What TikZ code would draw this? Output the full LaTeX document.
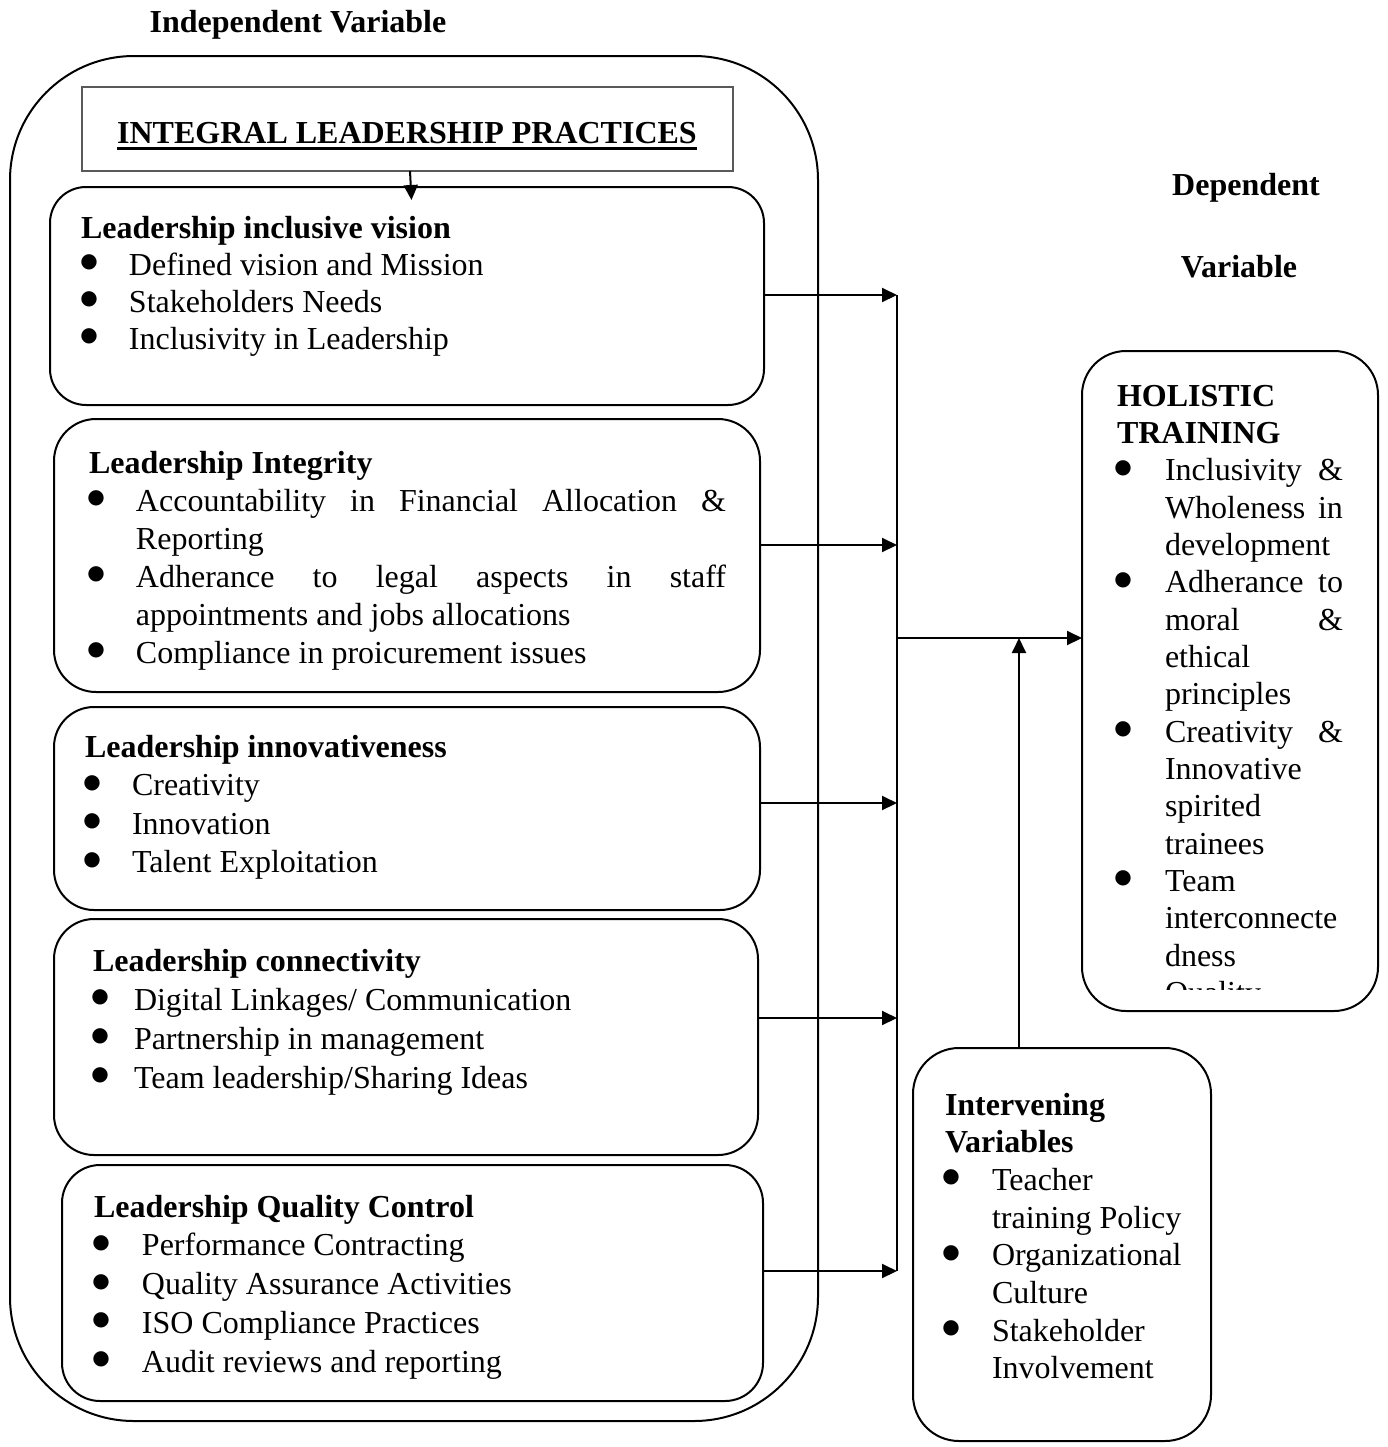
\documentclass[tikz,border=0pt]{standalone}
\usepackage{fontspec}
\setmainfont{Liberation Serif}
\newfontfamily\bulfont{DejaVu Sans}
\usetikzlibrary{arrows.meta}
\newlength\bulx
\newlength\txtx
\newcommand\bul{\makebox[\txtx][l]{\hspace*{\bulx}\makebox[0pt]{\raisebox{2pt}{$\vcenter{\hbox{\fontsize{10pt}{10pt}\bulfont ●}}$}}}}
\newcommand\Ttl[1]{\par\noindent\textbf{#1}}
\newcommand\Bit[1]{\par\noindent\bul #1}
\newcommand\Cln[1]{\par\noindent\hspace*{\txtx}#1}
\newcommand\Btext[5]{\parbox[t]{#1}{\fontsize{16pt}{#2}\selectfont\setlength{\bulx}{#3}\setlength{\txtx}{#4}#5}}
\newcommand\Bx[6]{\node[box, rounded corners=#6, minimum width={(#4-#2)*0.5pt}, minimum height={(#5-#3)*0.5pt}] (#1) at ({(#2+#4)/2},{(#3+#5)/2}) {};}
\begin{document}
\begin{tikzpicture}[x=0.5pt, y=-0.5pt,
  font=\fontsize{16pt}{19pt}\selectfont,
  every node/.style={inner sep=0pt, outer sep=0pt},
  box/.style={draw, line width=1pt},
  ln/.style={line width=1pt},
  arr/.style={line width=1pt, -{Triangle[length=7.5pt,width=7pt]}}]
\useasboundingbox (0,0) rectangle (1388,1447);

% headings
\node[anchor=base, font=\fontsize{16pt}{19pt}\selectfont\bfseries] (indep) at (298,32) {Independent Variable};
\node[anchor=base, font=\fontsize{16pt}{19pt}\selectfont\bfseries] (dep1) at (1246,195) {Dependent};
\node[anchor=base, font=\fontsize{16pt}{19pt}\selectfont\bfseries] (dep2) at (1239,277) {Variable};

% boxes
\Bx{outer}{10}{56}{818}{1421}{62pt}
\node[draw=gray!70!black, line width=0.7pt, minimum width=325.5pt, minimum height=42pt] (ttl) at (407.5,129) {};
\node[anchor=base, font=\fontsize{16pt}{19pt}\selectfont\bfseries] (ilp) at (407,143) {INTEGRAL LEADERSHIP PRACTICES};
\draw[line width=1.4pt] ([yshift=-2.6pt]ilp.base west) -- ([yshift=-2.6pt]ilp.base east);
\Bx{b1}{50}{187}{764}{405}{18pt}
\Bx{b2}{54}{419}{760}{692}{21pt}
\Bx{b3}{54}{707}{760}{910}{20pt}
\Bx{b4}{54}{919}{758}{1155}{20pt}
\Bx{b5}{62}{1165}{763}{1401}{19pt}
\Bx{hol}{1082}{351}{1378}{1011}{22pt}
\Bx{iv}{913}{1048}{1211}{1441}{23pt}

% texts
\node[anchor=base west] (t1) at (81,238) {\Btext{330pt}{18.5pt}{4pt}{24pt}{%
\Ttl{Leadership inclusive vision}
\Bit{Defined vision and Mission}
\Bit{Stakeholders Needs}
\Bit{Inclusivity in Leadership}}};

\node[anchor=base west] (t2) at (89,473) {\Btext{330pt}{19pt}{3.5pt}{23.5pt}{%
\Ttl{Leadership Integrity}
\Bit{\makebox[295pt][s]{Accountability in Financial Allocation \&}}
\Cln{Reporting}
\Bit{\makebox[295pt][s]{Adherance to legal aspects in staff}}
\Cln{appointments and jobs allocations}
\Bit{Compliance in proicurement issues}}};

\node[anchor=base west] (t3) at (85,757) {\Btext{330pt}{19.3pt}{3.5pt}{23.5pt}{%
\Ttl{Leadership innovativeness}
\Bit{Creativity}
\Bit{Innovation}
\Bit{Talent Exploitation}}};

\node[anchor=base west] (t4) at (93,971) {\Btext{330pt}{19.5pt}{3.5pt}{20.5pt}{%
\Ttl{Leadership connectivity}
\Bit{Digital Linkages/ Communication}
\Bit{Partnership in management}
\Bit{Team leadership/Sharing Ideas}}};

\node[anchor=base west] (t5) at (94,1217) {\Btext{330pt}{19.4pt}{3.5pt}{24pt}{%
\Ttl{Leadership Quality Control}
\Bit{Performance Contracting}
\Bit{Quality Assurance Activities}
\Bit{ISO Compliance Practices}
\Bit{Audit reviews and reporting}}};

\node[anchor=base west] (th) at (1117,406) {\Btext{130pt}{18.67pt}{3pt}{24pt}{%
\Ttl{HOLISTIC}
\Ttl{TRAINING}
\Bit{\makebox[89pt][s]{Inclusivity \&}}
\Cln{\makebox[89pt][s]{Wholeness in}}
\Cln{development}
\Bit{\makebox[89pt][s]{Adherance to}}
\Cln{\makebox[89pt][s]{moral \&}}
\Cln{ethical}
\Cln{principles}
\Bit{\makebox[89pt][s]{Creativity \&}}
\Cln{Innovative}
\Cln{spirited}
\Cln{trainees}
\Bit{Team}
\Cln{interconnecte}
\Cln{dness}}};
\begin{scope}
\clip (1100,970) rectangle (1370,989);
\node[anchor=base west] (tq) at (1165,1003) {Quality};
\end{scope}

\node[anchor=base west] (ti) at (945,1115) {\Btext{130pt}{18.85pt}{3pt}{23.5pt}{%
\Ttl{Intervening}
\Ttl{Variables}
\Bit{Teacher}
\Cln{training Policy}
\Bit{Organizational}
\Cln{Culture}
\Bit{Stakeholder}
\Cln{Involvement}}};

% connectors
\coordinate (c1) at (897,295);
\coordinate (c2) at (897,545);
\coordinate (c3) at (897,803);
\coordinate (c4) at (897,1018);
\coordinate (c5) at (897,1271);
\coordinate (m) at (897,638);
\coordinate (ia) at (1019,638);
\draw[ln] (c1) -- (c5);
\draw[arr] (b1.east |- c1) -- (c1);
\draw[arr] (b2.east |- c2) -- (c2);
\draw[arr] (b3.east |- c3) -- (c3);
\draw[arr] (b4.east |- c4) -- (c4);
\draw[arr] (b5.east |- c5) -- (c5);
\draw[arr] (m) -- (m -| hol.west);
\draw[arr] (ia |- iv.north) -- (ia);
\draw[arr] ([xshift=1.25pt]ttl.south) -- ([xshift=2.25pt,yshift=-6.5pt]b1.north);
\end{tikzpicture}
\end{document}
